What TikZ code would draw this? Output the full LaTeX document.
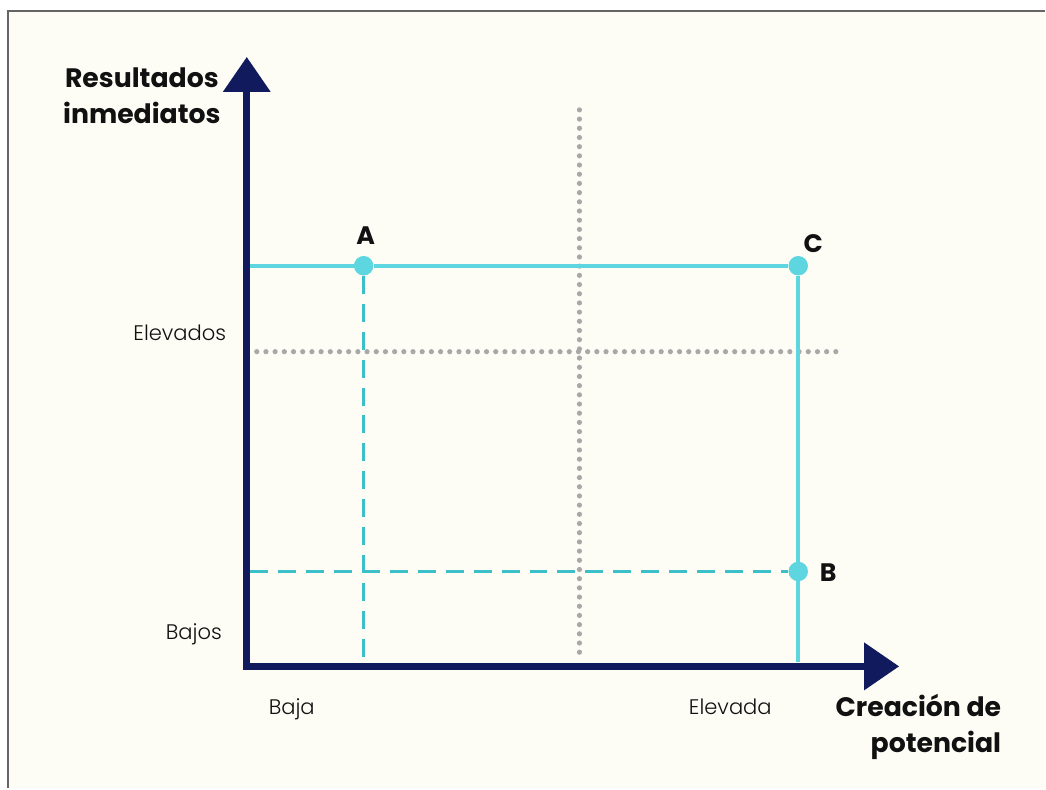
\documentclass[tikz,border=0pt]{standalone}
\usepackage{fontspec}
\setmainfont{Poppins}
\newfontfamily\thinfont{Poppins Light}
\usetikzlibrary{arrows.meta}

\definecolor{navy}{HTML}{111A5C}
\definecolor{aqua}{HTML}{5ED6E0}
\definecolor{aquadark}{HTML}{3DBFC9}
\definecolor{dotgray}{HTML}{A8A8A8}
\definecolor{paper}{HTML}{FDFDF6}
\definecolor{ink}{HTML}{111111}

\tikzset{
  axes/.style={line width=1.75mm, navy, line join=miter,
    {Triangle[length=8.75mm,width=11.5mm]}-{Triangle[length=8.75mm,width=11.5mm]}},
  guide/.style={dotgray, line width=1.3mm, line cap=round, dash pattern=on 0pt off 2.3mm},
  solidpath/.style={aqua, line width=1.1mm},
  dashpath/.style={aquadark, line width=0.85mm, dash pattern=on 4.5mm off 2.5mm},
  pt/.style={circle, fill=aqua, inner sep=0pt, minimum size=4.8mm},
  ptlabel/.style={font=\fontsize{18}{20}\selectfont\bfseries, text=ink},
  axtitle/.style={font=\fontsize{19}{25.6}\selectfont\bfseries, text=ink},
  tick/.style={font=\fontsize{15}{18}\selectfont\thinfont, text=ink, anchor=base}
}

\begin{document}
\begin{tikzpicture}[x=0.25mm,y=-0.25mm]
% page and frame
\fill[white] (0,0) rectangle (1046,789);
\fill[paper] (8,11) rectangle (1046,789);
\draw[gray!80!black, line width=0.5mm] (8,789) -- (8,11) -- (1046,11);
\useasboundingbox (0,0) rectangle (1046,789);

% axes
\coordinate (O) at (247,667);
\coordinate (ytop) at (247,57);
\coordinate (xend) at (900,667);

% guide lines
\coordinate (gv1) at (580,110);
\coordinate (gv2) at (580,660);
\coordinate (gh1) at (257,352);
\coordinate (gh2) at (845,352);
\draw[guide] (gv1) -- (gv2);
\draw[guide] (gh1) -- (gh2);

% points
\node[pt] (A) at (364,266) {};
\node[pt] (C) at (799,266) {};
\node[pt] (B) at (799,572) {};
\coordinate (yA) at (250,266);
\coordinate (yB) at (250,572);
\coordinate (xA) at (364,663);
\coordinate (xC) at (799,663);

\draw[dashpath] (A) -- (xA);
\draw[dashpath] (yB) -- (B);
\draw[solidpath] (yA) -- (A) -- (C) -- (B) -- (xC);
\node[pt] at (A) {};
\node[pt] at (C) {};
\node[pt] at (B) {};

\draw[axes] (ytop) -- (O) -- (xend);

% labels
\node[ptlabel] (lA) at (366,236) {A};
\node[ptlabel] (lC) at (814,244) {C};
\node[ptlabel] (lB) at (829,573) {B};

\node[axtitle, align=center] (ytitle) at (142,96) {Resultados\\inmediatos};
\node[axtitle, align=right, anchor=north east] (xtitle) at (1007,690) {Creación de\\potencial};

\node[tick] (hi) at (180,341) {Elevados};
\node[tick] (lo) at (194,640) {Bajos};
\node[tick] (low) at (292,715) {Baja};
\node[tick] (high) at (731,715) {Elevada};
\end{tikzpicture}
\end{document}
